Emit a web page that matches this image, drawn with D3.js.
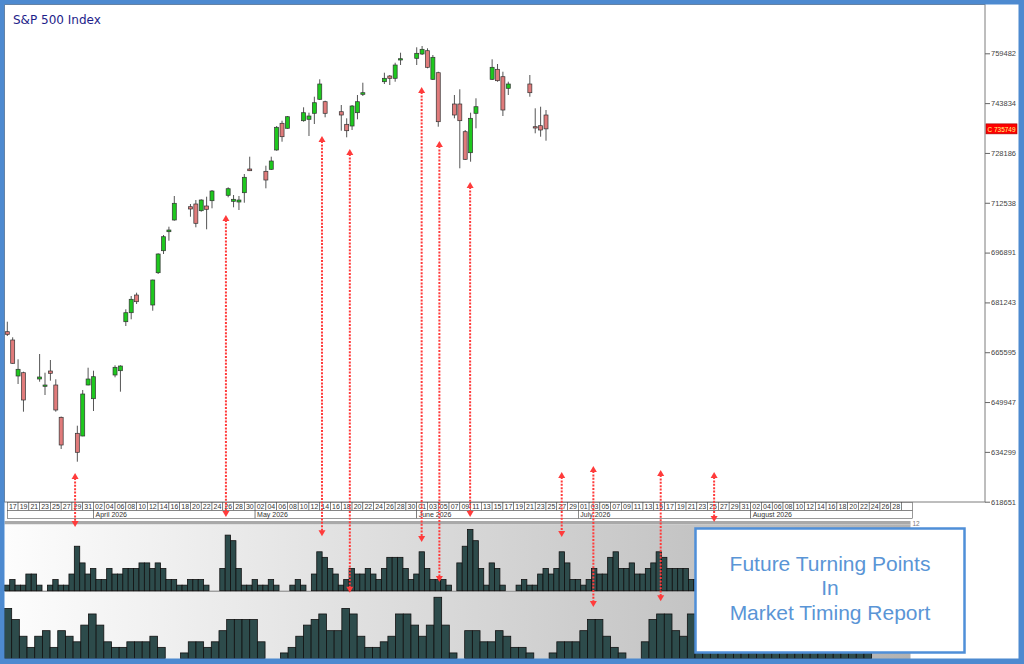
<!DOCTYPE html>
<html>
<head>
<meta charset="utf-8">
<script src="https://cdn.jsdelivr.net/npm/d3@7"></script>
<style>
  html, body { margin: 0; padding: 0; background: #fff; }
  svg { display: block; }
</style>
</head>
<body>
<svg id="chart" width="1024" height="664"></svg>
<script>
// daily candles (trading days)
const candleDates = [
  '2026-03-17','2026-03-18','2026-03-19','2026-03-20',
  '2026-03-23','2026-03-24','2026-03-25','2026-03-26','2026-03-27',
  '2026-03-30','2026-03-31','2026-04-01','2026-04-02',
  '2026-04-06','2026-04-07','2026-04-08','2026-04-09','2026-04-10',
  '2026-04-13','2026-04-14','2026-04-15','2026-04-16','2026-04-17',
  '2026-04-20','2026-04-21','2026-04-22','2026-04-23','2026-04-24',
  '2026-04-27','2026-04-28','2026-04-29','2026-04-30','2026-05-01',
  '2026-05-04','2026-05-05','2026-05-06','2026-05-07','2026-05-08',
  '2026-05-11','2026-05-12','2026-05-13','2026-05-14','2026-05-15',
  '2026-05-18','2026-05-19','2026-05-20','2026-05-21','2026-05-22',
  '2026-05-26','2026-05-27','2026-05-28','2026-05-29',
  '2026-06-01','2026-06-02','2026-06-03','2026-06-04','2026-06-05',
  '2026-06-08','2026-06-09','2026-06-10','2026-06-11','2026-06-12',
  '2026-06-15','2026-06-16','2026-06-17','2026-06-18',
  '2026-06-22','2026-06-23','2026-06-24','2026-06-25'
];
const opens = [
  672043, 669436, 658130, 659166,
  657187, 654893, 659700, 655303, 645158,
  640133, 639285, 655303, 651000,
  658444, 659794, 675184, 678010, 683569,
  680429, 690573, 697482, 703450, 707125,
  711302, 712150, 710045, 711522, 713186,
  714882, 712998, 712778, 715699, 723142,
  722420, 723048, 729109, 737495, 735925,
  738312, 738751, 740636, 745033, 744279,
  741138, 737181, 736647, 740825, 746603,
  750560, 752351, 751628, 757470,
  757910, 759260, 760297, 751314, 753387,
  743557, 743557, 734857, 728261, 740636,
  751314, 754455, 752131, 748488,
  749838, 736427, 736741, 740102
];
const highs = [
  675184, 670284, 663374, 659480,
  665039, 659166, 663155, 657093, 645400,
  642520, 653733, 660736, 659794,
  661490, 661490, 679078, 683255, 684292,
  688400, 696666, 702414, 705020, 714662,
  712150, 713406, 713626, 714443, 716547,
  717395, 714976, 714662, 721572, 727006,
  724179, 727006, 736647, 738312, 739788,
  742520, 740825, 745849, 751314, 744593,
  743243, 739066, 743243, 746383, 750246,
  753387, 752665, 756528, 759669,
  761364, 761773, 761050, 758946, 753701,
  746383, 748174, 735391, 740825, 745347,
  757596, 756120, 753701, 750560,
  752665, 742206, 742709, 741672
];
const lows = [
  670692, 662000, 655617, 646917,
  656340, 652162, 656654, 646917, 635203,
  631214, 639200, 655200, 647137,
  657722, 653199, 673833, 675938, 680743,
  678638, 690165, 696446, 700623, 706905,
  708161, 704832, 709731, 704204, 710799,
  714254, 711115, 710265, 712558, 722500,
  717081, 722828, 728890, 731716, 735800,
  737998, 733506, 737275, 744813, 739380,
  735171, 733098, 735391, 738751, 746069,
  749838, 749524, 750560, 755805,
  755805, 758946, 754769, 751094, 736427,
  739066, 723362, 725969, 725435, 735925,
  751094, 750560, 739788, 746383,
  745849, 734354, 733287, 732030
];
const closes = [
  671226, 662118, 660234, 650592,
  657815, 655303, 658978, 647451, 636459,
  634166, 652476, 657187, 657910,
  660862, 661270, 678010, 682219, 681465,
  688280, 696446, 701880, 703984, 712370,
  710579, 706088, 713406, 710485, 716233,
  716955, 713626, 713406, 720535, 722608,
  719687, 725655, 736239, 733287, 739568,
  740825, 739788, 743965, 749838, 740636,
  740102, 735171, 742929, 744279, 747106,
  751628, 751628, 755805, 757784,
  759480, 760736, 755083, 758224, 737998,
  740102, 738312, 726189, 739066, 742709,
  755083, 750875, 741672, 749838,
  747106, 736113, 735391, 735749
];
const lastClose = 735749;

const priceTicks = [618651, 634299, 649947, 665595, 681243, 696891, 712538, 728186, 743834, 759482];
const monthLabels = ['', 'April 2026', 'May 2026', 'June 2026', 'July 2026', 'August 2026'];

// upper indicator, one value per calendar day from 2026-03-17
const pane1Values = [
  1,2,1,1,3,3,1,0,1,2,
  1,1,3,8,5,3,4,2,2,4,
  3,3,4,4,4,5,5,4,5,4,
  2,2,1,1,2,2,2,1,0,0,
  4,10,9,4,1,1,2,1,1,2,
  1,0,0,1,2,1,0,3,7,6,
  4,3,1,2,4,3,3,4,3,2,
  4,6,6,6,4,2,3,7,4,2,
  2,2,1,0,5,8,11,9,4,1,
  5,4,1,0,0,1,2,1,1,3,
  4,3,4,7,5,2,2,1,2,4,
  3,3,6,7,4,4,5,3,3,4,
  5,7,6,4,4,4,4,2,2
];
// lower indicator, its own bar sequence
const pane2Values = [
  9,7,4,2,4,5,2,5,4,3,
  6,8,6,3,2,2,3,3,3,4,
  2,0,0,1,3,3,2,3,5,7,
  7,7,7,3,0,0,1,2,4,6,
  7,8,5,5,9,8,4,2,2,3,
  4,8,8,6,4,6,11,6,1,0,
  5,5,3,3,5,4,2,2,1,0,
  0,1,3,3,3,5,7,7,4,2,
  1,0,0,3,7,8,8,5,4,8,
  1,3,5,6,6,4,2,1,2,3,
  5,7,7,5,3,2,1,2,4,6,
  5,3,1
];

// turning point arrows: time, price it points to, pane and level at the other end
const arrowTimes  = ['2026-03-29 14','2026-04-26 14','2026-05-14 10','2026-05-19 14','2026-06-01 22','2026-06-05 05','2026-06-10 22','2026-06-27 22','2026-07-03 19','2026-07-16 07','2026-07-26 05'];
const arrowPrices = [627670, 708700, 733500, 729420, 748900, 731940, 719060, 627980, 629870, 628610, 627980];
const arrowPanes  = [1, 1, 1, 2, 1, 1, 1, 1, 2, 2, 1];
const arrowLevels = [11.45, 13.25, 9.8, 11.8, 8.75, 1.56, 13.25, 9.64, 9.25, 10.3, 12.35];

const W = 1024, H = 664;
const blue = '#4d8ad0';
const svg = d3.select('#chart');

svg.append('rect').attr('width', W).attr('height', H).attr('fill', '#fff');

const parseDay = d3.utcParse('%Y-%m-%d');
const parseHour = d3.utcParse('%Y-%m-%d %H');
const start = parseDay('2026-03-17');
const end = d3.utcDay.offset(start, 166);

const x = d3.scaleUtc().domain([start, end]).range([7.3, 7.3 + 166 * 5.387]);
const y = d3.scaleLinear().domain([618651, 759482]).range([501.7, 53.3]);
const y1 = d3.scaleLinear().domain([0, 12]).range([590.7, 524]);
const y2 = d3.scaleLinear().domain([0, 12]).range([658.5, 591.7]);
const x2 = d3.scaleBand().domain(d3.range(pane2Values.length)).range([4, 4 + pane2Values.length * 7.678]);

// main price frame
svg.append('rect')
  .attr('x', 4.5).attr('y', 4.5).attr('width', 980.5).attr('height', 497.5)
  .attr('fill', '#fff').attr('stroke', '#7d7d7d');

svg.append('text')
  .attr('x', 13).attr('y', 24)
  .attr('fill', '#1d1d8a')
  .style('font', '12px "DejaVu Sans"')
  .text('S&P 500 Index');

// candles
const candles = candleDates.map((d, i) => ({
  date: parseDay(d), o: opens[i], h: highs[i], l: lows[i], c: closes[i]
}));

const cg = svg.append('g');
cg.selectAll('.wick')
  .data(candles)
  .enter()
  .append('line')
  .attr('x1', d => x(d.date)).attr('x2', d => x(d.date))
  .attr('y1', d => y(d.h)).attr('y2', d => y(d.l))
  .attr('stroke', '#555').attr('stroke-width', 1);

cg.selectAll('.body')
  .data(candles)
  .enter()
  .append('rect')
  .attr('x', d => x(d.date) - 2)
  .attr('width', 4)
  .attr('y', d => y(Math.max(d.o, d.c)))
  .attr('height', d => Math.max(1.3, Math.abs(y(d.o) - y(d.c))))
  .attr('fill', d => d.c >= d.o ? '#1ec81e' : '#e07b7b')
  .attr('stroke', '#333').attr('stroke-width', 0.7);

// price axis
const ay = svg.append('g')
  .attr('transform', 'translate(985,0)')
  .call(d3.axisRight(y).tickValues(priceTicks).tickSize(5).tickPadding(1).tickFormat(d3.format('d')));
ay.select('.domain').remove();
ay.selectAll('line').attr('stroke', '#666');
ay.selectAll('text').attr('fill', '#444').style('font', '7.5px "Liberation Sans"');

// last close tag
svg.append('rect')
  .attr('x', 986).attr('y', y(lastClose) - 5).attr('width', 31).attr('height', 10)
  .attr('fill', '#ff0000').attr('stroke', '#a00000').attr('stroke-width', 0.6);
svg.append('text')
  .attr('x', 987.5).attr('y', y(lastClose) + 2.8)
  .attr('fill', '#ffff80')
  .attr('textLength', 28).attr('lengthAdjust', 'spacingAndGlyphs')
  .style('font', '7.5px "Liberation Sans"')
  .text('C ' + lastClose);

// date axis: day cells every two days, month row below
const labelDays = d3.range(0, 166, 2).map(i => d3.utcDay.offset(start, i));
const dg = svg.append('g');
dg.selectAll('rect')
  .data(labelDays)
  .enter()
  .append('rect')
  .attr('x', d => x(d)).attr('y', 502.5)
  .attr('width', d => x(d3.utcDay.offset(d, 2)) - x(d)).attr('height', 8)
  .attr('fill', '#fff').attr('stroke', '#555').attr('stroke-width', 0.6);
dg.append('rect')
  .attr('x', x(end)).attr('y', 502.5).attr('width', 10.77).attr('height', 8)
  .attr('fill', '#fff').attr('stroke', '#555').attr('stroke-width', 0.6);
dg.selectAll('text')
  .data(labelDays)
  .enter()
  .append('text')
  .attr('x', d => x(d) + 1.6).attr('y', 509.2)
  .attr('fill', '#333')
  .style('font', '7px "Liberation Sans"')
  .text(d3.utcFormat('%d'));

const monthStarts = [start].concat(labelDays.filter((d, i) => i > 0 && d.getUTCMonth() !== labelDays[i - 1].getUTCMonth()));
const monthEnds = monthStarts.slice(1).map(d => x(d)).concat([x(end) + 10.77]);
monthStarts.forEach((d, i) => {
  dg.append('rect')
    .attr('x', x(d)).attr('y', 510.5).attr('width', monthEnds[i] - x(d)).attr('height', 8)
    .attr('fill', '#fff').attr('stroke', '#555').attr('stroke-width', 0.6);
  dg.append('text')
    .attr('x', x(d) + 2).attr('y', 517.2)
    .attr('fill', '#333')
    .style('font', '7px "Liberation Sans"')
    .text(monthLabels[i]);
});

// indicator panes
const defs = svg.append('defs');
const grad = defs.append('linearGradient')
  .attr('id', 'paneGrad').attr('gradientUnits', 'userSpaceOnUse')
  .attr('x1', 5).attr('x2', 910).attr('y1', 0).attr('y2', 0);
grad.append('stop').attr('offset', 0).attr('stop-color', '#fdfdfd');
grad.append('stop').attr('offset', 1).attr('stop-color', '#b2b2b2');

svg.append('rect').attr('x', 4.5).attr('y', 521).attr('width', 906).attr('height', 3.5).attr('fill', '#a9a9a9');
svg.append('rect').attr('x', 4.5).attr('y', 524.5).attr('width', 906).attr('height', 66).attr('fill', 'url(#paneGrad)');
svg.append('rect').attr('x', 4.5).attr('y', 590.5).attr('width', 906).attr('height', 1.5).attr('fill', '#a0a0a0');
svg.append('rect').attr('x', 4.5).attr('y', 592).attr('width', 906).attr('height', 67).attr('fill', 'url(#paneGrad)');
svg.append('text')
  .attr('x', 912.5).attr('y', 525.5)
  .attr('fill', '#777')
  .style('font', '6.5px "Liberation Sans"')
  .text('12');

const pane1 = pane1Values.map((v, i) => ({ date: d3.utcDay.offset(start, i), v }));
svg.append('g').selectAll('rect')
  .data(pane1.filter(d => d.v > 0))
  .enter()
  .append('rect')
  .attr('x', d => x(d.date) - 3)
  .attr('width', d => x(d3.utcDay.offset(d.date, 1)) - x(d.date))
  .attr('y', d => y1(d.v))
  .attr('height', d => y1(0) - y1(d.v))
  .attr('fill', '#2d4b4b').attr('stroke', '#111').attr('stroke-width', 0.8);

svg.append('g').selectAll('rect')
  .data(pane2Values.map((v, i) => ({ i, v })).filter(d => d.v > 0))
  .enter()
  .append('rect')
  .attr('x', d => x2(d.i))
  .attr('width', x2.bandwidth())
  .attr('y', d => y2(d.v))
  .attr('height', d => y2(0) - y2(d.v))
  .attr('fill', '#2d4b4b').attr('stroke', '#111').attr('stroke-width', 0.8);

// red dotted arrows
const ag = svg.append('g');
arrowTimes.forEach((t, i) => {
  const ax = x(parseHour(t));
  const top = y(arrowPrices[i]);
  const bottom = arrowPanes[i] === 1 ? y1(arrowLevels[i]) : y2(arrowLevels[i]);
  ag.append('line')
    .attr('x1', ax).attr('x2', ax)
    .attr('y1', top + 5).attr('y2', bottom - 5)
    .attr('stroke', '#ff3b3b').attr('stroke-width', 2)
    .attr('stroke-dasharray', '2,1.4');
  ag.append('path')
    .attr('d', `M${ax},${top}L${ax - 3.5},${top + 6}L${ax + 3.5},${top + 6}Z`)
    .attr('fill', '#ff3b3b');
  ag.append('path')
    .attr('d', `M${ax},${bottom}L${ax - 3.5},${bottom - 6}L${ax + 3.5},${bottom - 6}Z`)
    .attr('fill', '#ff3b3b');
});

// report box
svg.append('rect')
  .attr('x', 695.5).attr('y', 528.5).attr('width', 269).attr('height', 124)
  .attr('fill', '#fff').attr('stroke', '#4f8fd8').attr('stroke-width', 2.5);
const boxLines = ['Future Turning Points', 'In', 'Market Timing Report'];
svg.append('g').selectAll('text')
  .data(boxLines)
  .enter()
  .append('text')
  .attr('x', 830).attr('y', (d, i) => 570.5 + i * 24.5)
  .attr('text-anchor', 'middle')
  .attr('fill', '#5a95d6')
  .style('font', '21px "Liberation Sans"')
  .text(d => d);

// outer blue frame
svg.append('path')
  .attr('d', `M0,0H${W}V${H}H0Z M4.5,4.5V658.5H1018.5V4.5Z`)
  .attr('fill', blue).attr('fill-rule', 'evenodd');
</script>
</body>
</html>
